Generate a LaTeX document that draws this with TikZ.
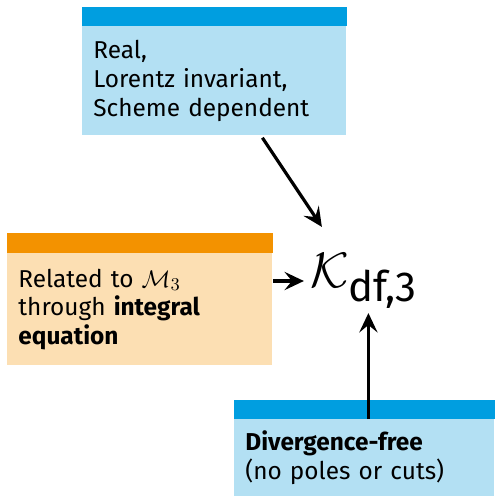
\documentclass[tikz,border=0pt]{standalone}
\usepackage{fontspec}
\setmainfont{Fira Sans}
\usepackage{amsmath}
\usetikzlibrary{positioning,arrows.meta}
\definecolor{hdblue}{RGB}{0,158,224}
\definecolor{bdblue}{RGB}{179,224,243}
\definecolor{hdorange}{RGB}{243,146,0}
\definecolor{bdorange}{RGB}{252,223,179}

\begin{document}
\begin{tikzpicture}[x=0.5pt,y=-0.5pt,>={Stealth[length=3.4mm,width=3.2mm,inset=1.3mm]},
  font=\fontsize{12.2}{14.4}\selectfont,
  bx/.style={anchor=north west,inner xsep=5.5pt,inner ysep=0pt,align=left},
  arr/.style={->,line width=1.6pt}]
  \useasboundingbox (0,0) rectangle (494,496);
  % boxes
  \node[bx,fill=bdblue,text width=121pt,minimum height=54.5pt] (props) at (82,26)
    {Real,\\Lorentz invariant,\\Scheme dependent};
  \fill[hdblue] (props.north west) rectangle ([yshift=9.5pt]props.north east);
  \node[bx,fill=bdorange,text width=121.5pt,minimum height=56pt] (rel) at (7,253)
    {Related to $\mathcal{M}_3$\\through \textbf{integral}\\\textbf{equation}};
  \fill[hdorange] (rel.north west) rectangle ([yshift=10pt]rel.north east);
  \node[bx,fill=bdblue,text width=119pt,minimum height=38.5pt] (div) at (234,419)
    {\textbf{Divergence-free}\\(no poles or cuts)};
  \fill[hdblue] (div.north west) rectangle ([yshift=9.5pt]div.north east);
  % amplitude
  \node[font=\fontsize{30}{32}\selectfont,inner sep=0pt] (K) at (364,281)
    {$\mathcal{K}_{\text{df,3}}$};
  \draw[arr] ([xshift=24pt,yshift=-1pt]props.south) -- ([xshift=6pt,yshift=13pt]K.north west);
  \draw[arr] (K.west -| rel.east) -- ([xshift=-3pt]K.west);
  \draw[arr] ([xshift=2pt]div.north) -- ([xshift=2pt,yshift=-2pt]div.north |- K.south);
\end{tikzpicture}
\end{document}
